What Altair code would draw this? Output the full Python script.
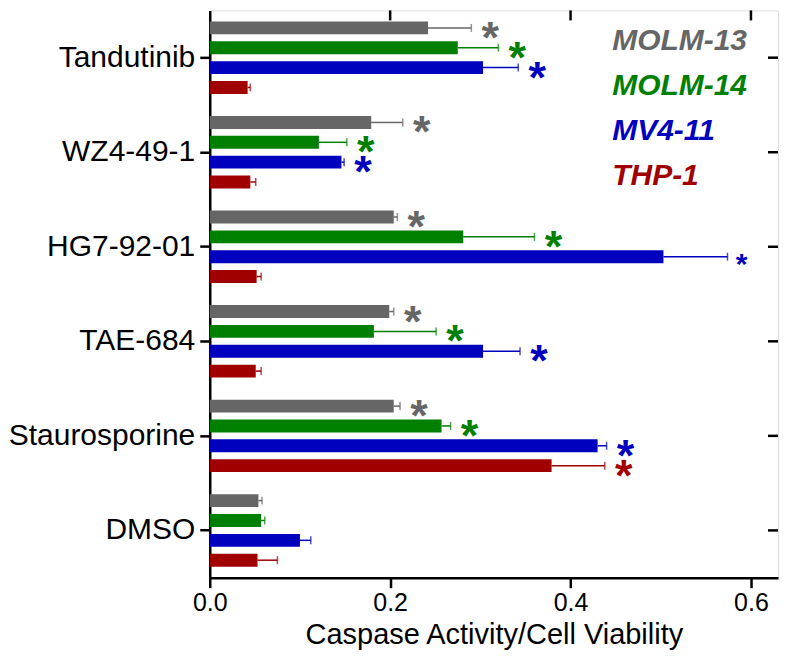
import altair as alt
import pandas as pd

drugs = ["Tandutinib", "WZ4-49-1", "HG7-92-01", "TAE-684", "Staurosporine", "DMSO"]
lines = ["MOLM-13", "MOLM-14", "MV4-11", "THP-1"]
colors = ["#666666", "#007f00", "#0000bf", "#a00000"]

# mean values per cell line (one per drug, in drug order)
molm13 = [0.242, 0.179, 0.204, 0.199, 0.204, 0.054]
molm14 = [0.275, 0.121, 0.281, 0.182, 0.257, 0.057]
mv411 = [0.303, 0.146, 0.503, 0.303, 0.430, 0.100]
thp1 = [0.042, 0.045, 0.052, 0.051, 0.379, 0.053]

# error (upper only)
molm13_err = [0.048, 0.035, 0.004, 0.005, 0.007, 0.004]
molm14_err = [0.045, 0.031, 0.079, 0.069, 0.010, 0.004]
mv411_err = [0.039, 0.003, 0.071, 0.041, 0.010, 0.012]
thp1_err = [0.003, 0.006, 0.005, 0.006, 0.059, 0.022]

# significance marks
molm13_sig = [1, 1, 1, 1, 1, 0]
molm14_sig = [1, 1, 1, 1, 1, 0]
mv411_sig = [1, 1, 1, 1, 1, 0]
thp1_sig = [0, 0, 0, 0, 1, 0]

x_ticks = [0.0, 0.2, 0.4, 0.6]

rows = []
for line, vals, errs, sigs in zip(
    lines,
    [molm13, molm14, mv411, thp1],
    [molm13_err, molm14_err, mv411_err, thp1_err],
    [molm13_sig, molm14_sig, mv411_sig, thp1_sig],
):
    for d, v, e, s in zip(drugs, vals, errs, sigs):
        rows.append({"drug": d, "line": line, "value": v, "err": e, "sig": s})
df = pd.DataFrame(rows)

W, H = 569, 568
FONT = "Liberation Sans"

color_enc = alt.Color("line:N", scale=alt.Scale(domain=lines, range=colors), legend=None)
y_scale = alt.Scale(domain=drugs, paddingInner=0.16, paddingOuter=0.08)
x_scale = alt.Scale(domain=[0, 0.63], nice=False, zero=True)

base = alt.Chart(df).transform_calculate(hi="datum.value + datum.err").encode(
    y=alt.Y("drug:N", sort=drugs, scale=y_scale,
            axis=alt.Axis(title=None, labelFontSize=30, labelFont=FONT, labelColor="black",
                          labelLimit=400,
                          tickSize=10, tickWidth=2.5, tickColor="black", labelPadding=5,
                          domainWidth=2.5, domainColor="black")),
    yOffset=alt.YOffset("line:N", sort=lines,
                        scale=alt.Scale(domain=lines, paddingInner=0.35, paddingOuter=0.175)),
    color=color_enc,
)

bars = base.mark_bar().encode(
    x=alt.X("value:Q", scale=x_scale,
            axis=alt.Axis(title="Caspase Activity/Cell Viability", values=x_ticks, format=".1f",
                          labelFontSize=25, labelFont=FONT, labelColor="black", labelFlush=False,
                          titleFontSize=29, titleFont=FONT, titleFontWeight="normal",
                          titleColor="black", titlePadding=5, labelPadding=3,
                          tickSize=10, tickWidth=2.5, tickColor="black",
                          domainWidth=2.5, domainColor="black", grid=False))
)
errs = base.mark_rule(strokeWidth=1.5).encode(x="value:Q", x2="hi:Q")
caps = base.mark_tick(size=8, thickness=1.5, orient="vertical").encode(x="hi:Q")
stars_big = base.transform_filter("datum.sig == 1 && datum.hi <= 0.55").mark_text(
    text="*", dx=19, dy=11, font=FONT, fontWeight="bold", fontSize=45,
    baseline="middle", align="center"
).encode(x="hi:Q")
stars_small = base.transform_filter("datum.sig == 1 && datum.hi > 0.55").mark_text(
    text="*", dx=14, dy=8, font=FONT, fontWeight="bold", fontSize=30,
    baseline="middle", align="center"
).encode(x="hi:Q")

top_ticks = alt.Chart(pd.DataFrame({"t": x_ticks[1:]})).mark_rule(
    color="black", strokeWidth=2.5
).encode(x=alt.X("t:Q", scale=x_scale), y=alt.value(0), y2=alt.value(10))

right_ticks = alt.Chart(pd.DataFrame({"drug": drugs})).mark_rule(
    color="black", strokeWidth=2.5
).encode(
    y=alt.Y("drug:N", sort=drugs, scale=y_scale, bandPosition=0.5),
    x=alt.value(W - 10), x2=alt.value(W),
)

main = alt.layer(bars, errs, caps, stars_big, stars_small, top_ticks, right_ticks)

legend = alt.Chart(pd.DataFrame({"line": lines})).mark_text(
    align="left", baseline="middle", font=FONT, fontSize=30, fontStyle="italic", fontWeight="bold"
).encode(
    x=alt.value(403),
    y=alt.Y("line:N", sort=lines, scale=alt.Scale(type="point", domain=lines, range=[31, 166], padding=0),
            axis=None),
    text="line:N",
    color=color_enc,
)

chart = alt.layer(main, legend).resolve_scale(y="independent").properties(
    width=W, height=H, padding={"left": 0, "top": 0, "right": 2, "bottom": 0}
).configure_view(stroke="black", strokeWidth=2.5).configure(background="white")

chart.save("out.html", embed_options={"renderer": "svg", "actions": False})
